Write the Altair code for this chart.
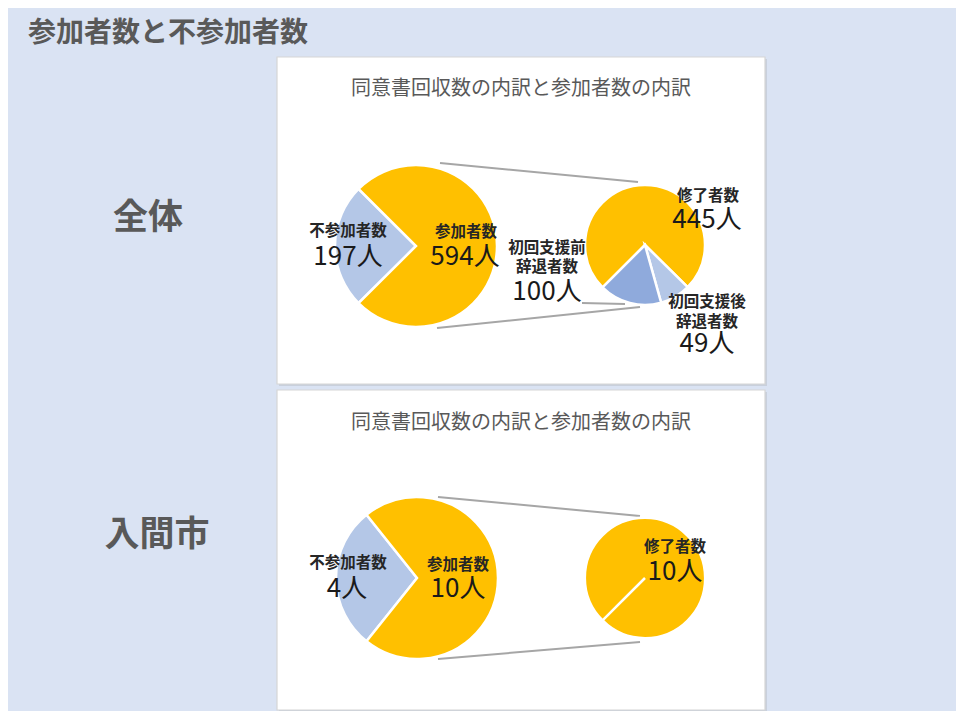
import math
import altair as alt
import pandas as pd

OX, OY = 8, 8
FONT = "Noto Sans CJK JP"

# ---------------- data ----------------
main_title = "参加者数と不参加者数"
panel_title = "同意書回収数の内訳と参加者数の内訳"
region_names = ["全体", "入間市"]

all_outer_names = ["不参加者数", "参加者数"]
all_outer_values = [197, 594]
all_inner_names = ["修了者数", "初回支援後辞退者数", "初回支援前辞退者数"]
all_inner_values = [445, 49, 100]

iruma_outer_names = ["不参加者数", "参加者数"]
iruma_outer_values = [4, 10]
iruma_inner_names = ["修了者数"]
iruma_inner_values = [10]

label_display = {
    "不参加者数": ["不参加者数"],
    "参加者数": ["参加者数"],
    "修了者数": ["修了者数"],
    "初回支援前辞退者数": ["初回支援前", "辞退者数"],
    "初回支援後辞退者数": ["初回支援後", "辞退者数"],
}

color_scale = alt.Scale(
    domain=["参加者数", "不参加者数", "修了者数", "初回支援前辞退者数", "初回支援後辞退者数"],
    range=["#FFC000", "#B4C7E7", "#FFC000", "#8FAADC", "#B4C7E7"],
)

# ---------------- layout ----------------
W, H = 948, 703
LH = 19.5
panels = [(277, 57, 765, 384), (277, 390, 765, 710)]
pie_layout = {
    # (cx, cy, r) in page coords
    "all_outer": (416, 246, 81),
    "all_inner": (645, 245, 60),
    "iruma_outer": (417, 578, 81),
    "iruma_inner": (645, 578, 60),
}
# label positions: name block centre and value baseline
label_pos = {
    "all_outer": [((348, 231), (348, 265)), ((466, 232), (465, 265))],
    "all_inner": [((708, 196), (707, 228)), ((707, 312), (707, 352)), ((547, 257.5), (547, 300))],
    "iruma_outer": [((348, 563), (347, 597)), ((458, 565), (458, 597))],
    "iruma_inner": [((675, 547), (675, 580))],
}
connectors = [
    (440, 163, 638, 182), (437, 328, 640, 307), (582, 303, 625, 304),
    (438, 497, 640, 516), (438, 659, 640, 642),
]


def pie(key, names, values, start):
    cx, cy, r = pie_layout[key]
    df = pd.DataFrame({"name": names, "value": values, "ord": list(range(len(names)))})
    total = float(sum(values))
    return alt.Chart(df).mark_arc(radius=r, stroke="white", strokeWidth=2.5).encode(
        x=alt.value(cx - OX),
        y=alt.value(cy - OY),
        theta=alt.Theta("value:Q", stack=True,
                        scale=alt.Scale(domain=[0, total], range=[start, start + 2 * math.pi])),
        order=alt.Order("ord:Q"),
        color=alt.Color("name:N", scale=color_scale, legend=None),
    )


def left_start(values):
    # small slice (first) centred on the 9 o'clock direction
    return 1.5 * math.pi - math.pi * values[0] / sum(values)


INNER_START = 1.25 * math.pi
pies = [
    pie("all_outer", all_outer_names, all_outer_values, left_start(all_outer_values)),
    pie("all_inner", all_inner_names, all_inner_values, INNER_START),
    pie("iruma_outer", iruma_outer_names, iruma_outer_values, left_start(iruma_outer_values)),
    pie("iruma_inner", iruma_inner_names, iruma_inner_values, INNER_START),
]

# white seam of the single-slice pie (slice edge at its start angle)
cx, cy, r = pie_layout["iruma_inner"]
seam_df = pd.DataFrame([{"x": cx - OX, "y": cy - OY,
                         "x2": cx - OX + r * math.sin(INNER_START),
                         "y2": cy - OY - r * math.cos(INNER_START)}])
seam_layer = alt.Chart(seam_df).mark_rule(color="white", strokeWidth=2.5).encode(
    x=alt.X("x:Q", scale=None), y=alt.Y("y:Q", scale=None), x2="x2:Q", y2="y2:Q"
)

# labels
name_rows, value_rows = [], []
for key, names, values in [
    ("all_outer", all_outer_names, all_outer_values),
    ("all_inner", all_inner_names, all_inner_values),
    ("iruma_outer", iruma_outer_names, iruma_outer_values),
    ("iruma_inner", iruma_inner_names, iruma_inner_values),
]:
    for (npos, vpos), n, v in zip(label_pos[key], names, values):
        lines = label_display[n]
        for i, line in enumerate(lines):
            yy = npos[1] - (len(lines) - 1) * LH / 2 + i * LH
            name_rows.append({"t": line, "x": npos[0] - OX, "y": yy - OY})
        value_rows.append({"t": f"{v}人", "x": vpos[0] - OX, "y": vpos[1] - OY})

name_layer = alt.Chart(pd.DataFrame(name_rows)).mark_text(
    font=FONT, fontSize=15.5, fontWeight="bold", color="#262626",
    align="center", baseline="middle",
).encode(x=alt.X("x:Q", scale=None), y=alt.Y("y:Q", scale=None), text="t:N")

value_layer = alt.Chart(pd.DataFrame(value_rows)).mark_text(
    font=FONT, fontSize=26, color="#1a1a1a", align="center", baseline="alphabetic",
).encode(x=alt.X("x:Q", scale=None), y=alt.Y("y:Q", scale=None), text="t:N")

# panels
panel_df = pd.DataFrame([{"x": a - OX, "y": b - OY, "x2": c - OX, "y2": d - OY} for a, b, c, d in panels])
shadow_layer = alt.Chart(panel_df).transform_calculate(
    sx="datum.x + 2", sy="datum.y + 2", sx2="datum.x2 + 2", sy2="datum.y2 + 2"
).mark_rect(color="#c9d0dc").encode(
    x=alt.X("sx:Q", scale=None), y=alt.Y("sy:Q", scale=None),
    x2="sx2:Q", y2="sy2:Q",
)
panel_layer = alt.Chart(panel_df).mark_rect(
    fill="white", stroke="#d6d6d6", strokeWidth=1.2
).encode(x=alt.X("x:Q", scale=None), y=alt.Y("y:Q", scale=None), x2="x2:Q", y2="y2:Q")

conn_df = pd.DataFrame([{"x": a - OX, "y": b - OY, "x2": c - OX, "y2": d - OY} for a, b, c, d in connectors])
conn_layer = alt.Chart(conn_df).mark_rule(color="#a6a6a6", strokeWidth=2).encode(
    x=alt.X("x:Q", scale=None), y=alt.Y("y:Q", scale=None), x2="x2:Q", y2="y2:Q"
)

# titles
ptitle_df = pd.DataFrame([{"t": panel_title, "x": 521 - OX, "y": 89 - OY},
                          {"t": panel_title, "x": 521 - OX, "y": 423 - OY}])
ptitle_layer = alt.Chart(ptitle_df).mark_text(
    font=FONT, fontSize=20, color="#595959", align="center", baseline="middle"
).encode(x=alt.X("x:Q", scale=None), y=alt.Y("y:Q", scale=None), text="t:N")

region_df = pd.DataFrame([{"t": region_names[0], "x": 148 - OX, "y": 218 - OY},
                          {"t": region_names[1], "x": 157 - OX, "y": 535 - OY}])
region_layer = alt.Chart(region_df).mark_text(
    font=FONT, fontSize=35, fontWeight="bold", color="#595959", align="center", baseline="middle"
).encode(x=alt.X("x:Q", scale=None), y=alt.Y("y:Q", scale=None), text="t:N")

mtitle_layer = alt.Chart(pd.DataFrame([{"t": main_title, "x": 28 - OX, "y": 34 - OY}])).mark_text(
    font=FONT, fontSize=28, fontWeight="bold", color="#595959", align="left", baseline="middle"
).encode(x=alt.X("x:Q", scale=None), y=alt.Y("y:Q", scale=None), text="t:N")

chart = alt.layer(
    shadow_layer, panel_layer, conn_layer, *pies, seam_layer,
    name_layer, value_layer, ptitle_layer, region_layer, mtitle_layer,
).resolve_scale(theta="independent").properties(
    width=W, height=H, background="#dae3f3", padding=0,
    autosize=alt.AutoSizeParams(type="none"),
).configure_view(stroke=None)

chart.save("out.html", embed_options={"renderer": "svg", "actions": False})
